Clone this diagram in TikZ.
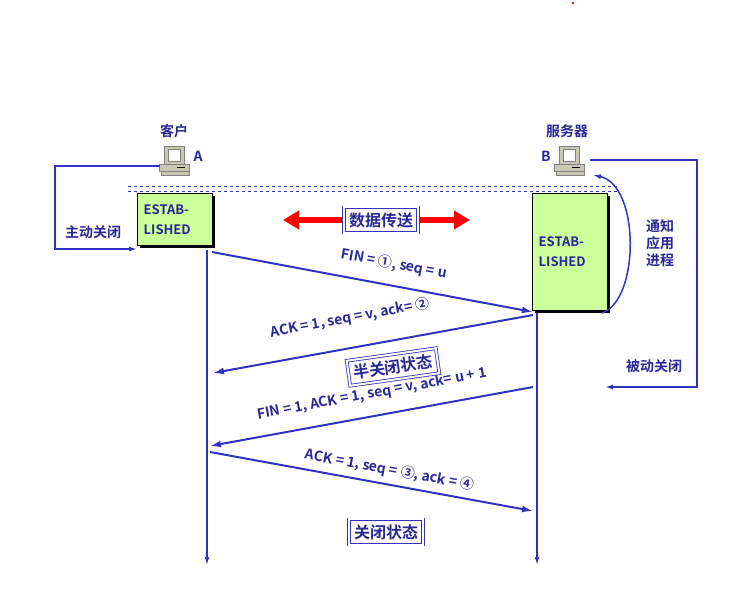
\documentclass[tikz,border=0pt]{standalone}
\usepackage{fontspec}
\setmainfont{Noto Sans CJK SC}[BoldFont={Noto Sans CJK SC Bold}]
\usetikzlibrary{arrows.meta,calc}
\definecolor{lineblue}{RGB}{50,50,190}
\definecolor{textblue}{RGB}{40,40,150}
\definecolor{boxgreen}{RGB}{204,255,153}
\definecolor{pcgray}{RGB}{200,200,180}
\tikzset{
  msg/.style={lineblue,line width=2pt,-{Latex[length=11pt,width=7pt]}},
  lbl/.style={text=textblue,font=\bfseries\fontsize{14}{17}\selectfont},
  state/.style={fill=boxgreen,draw=black,line width=0.4pt,text=textblue,font=\bfseries\fontsize{13}{20}\selectfont,align=left},
  framed/.style={draw=lineblue,line width=0.8pt,double=white,double distance=2pt,inner sep=5pt,text=textblue,font=\bfseries\fontsize{16}{18}\selectfont,fill=white}
}
\newcommand{\pcicon}[1]{%
  \fill[pcgray,draw=gray] ($(#1)+(-11,-11)$) rectangle ($(#1)+(9,7)$);
  \fill[white,draw=gray] ($(#1)+(-7,-8)$) rectangle ($(#1)+(5,4)$);
  \fill[pcgray,draw=gray] ($(#1)+(-16,7)$) rectangle ($(#1)+(14,14)$);
  \draw[black] ($(#1)+(2,10)$) -- ($(#1)+(10,10)$);
  \fill[pcgray,draw=gray] ($(#1)+(-14,14)$) rectangle ($(#1)+(14,18)$);}
\begin{document}
\begin{tikzpicture}[x=1pt,y=-1pt]
\useasboundingbox (0,0) rectangle (729,594);
\fill[red] (573,3) circle (1.3);

% hosts
\pcicon{175,157}
\pcicon{570,157}
\node[lbl] (ka) at (174,131) {客户};
\node[lbl] (na) at (198,156) {A};
\node[lbl] (kb) at (567,131) {服务器};
\node[lbl] (nb) at (546,156) {B};
\coordinate (pa) at (160,166);
\coordinate (pb) at (590,160);

\draw[lineblue,dashed] (128,186) -- (617,186);
\draw[lineblue,dashed] (128,191) -- (617,191);

% states
\fill[black] (140,196) rectangle (215,248);
\node[state,minimum width=75pt,minimum height=52pt,anchor=north west,text width=62pt] (ea) at (137,193) {ESTAB-\\LISHED};
\fill[black] (535,196) rectangle (610,313);
\node[state,minimum width=75pt,minimum height=117pt,anchor=north west,text width=62pt] (eb) at (532,193) {ESTAB-\\LISHED};

% time lines
\coordinate (ta) at (207,250);
\coordinate (tae) at (207,565);
\coordinate (tb) at (537,313);
\coordinate (tbe) at (537,565);
\draw[lineblue,line width=1.5pt,-{Latex[length=8pt,width=5pt]}] (ta) -- (tae);
\draw[lineblue,line width=1.5pt,-{Latex[length=8pt,width=5pt]}] (tb) -- (tbe);

% data transfer
\draw[red,line width=6pt,{Triangle[length=16pt,width=18pt]}-{Triangle[length=16pt,width=18pt]}] (283,220) -- (470,220);
\node[framed] (dt) at (381,220) {数据传送};

% close loops
\node[lbl] (zd) at (93,232) {主动关闭};
\coordinate (la) at (137,249);
\draw[lineblue,line width=1.5pt,-{Latex[length=8pt,width=5pt]}] (pa) -- (55,166) -- (55,249) -- (la);
\node[lbl] (bd) at (654,366) {被动关闭};
\coordinate (lb) at (605,387);
\draw[lineblue,line width=1.5pt,-{Latex[length=8pt,width=5pt]}] (pb) -- (697,160) -- (697,387) -- (lb);
\node[lbl,align=left] (tz) at (660,243) {通知\\应用\\进程};
\coordinate (ca) at (602,313);
\coordinate (cb) at (593,175);
\draw[lineblue,line width=1.5pt,-{Latex[length=8pt,width=5pt]}] (ca) .. controls (640,300) and (640,185) .. (cb);

% messages
\coordinate (m1a) at (212,252); \coordinate (m1b) at (533,312);
\coordinate (m2a) at (533,315); \coordinate (m2b) at (213,373);
\coordinate (m3a) at (533,387); \coordinate (m3b) at (210,446);
\coordinate (m4a) at (210,452); \coordinate (m4b) at (533,511);
\draw[msg] (m1a) -- (m1b);
\draw[msg] (m2a) -- (m2b);
\draw[msg] (m3a) -- (m3b);
\draw[msg] (m4a) -- (m4b);
\node[lbl,rotate=-10.5] (t1) at (394,264) {FIN = ①, seq = u};
\node[lbl,rotate=10.5] (t2) at (350,318) {ACK = 1, seq = v, ack= ②};
\node[lbl,rotate=10.5] (t3) at (372,394) {FIN = 1, ACK = 1, seq = v, ack= u + 1};
\node[lbl,rotate=-10.5] (t4) at (390,470) {ACK = 1, seq = ③, ack = ④};
\node[framed,rotate=8] (hb) at (393,367) {半关闭状态};
\node[framed] (cl) at (386,532) {关闭状态};
\end{tikzpicture}
\end{document}
